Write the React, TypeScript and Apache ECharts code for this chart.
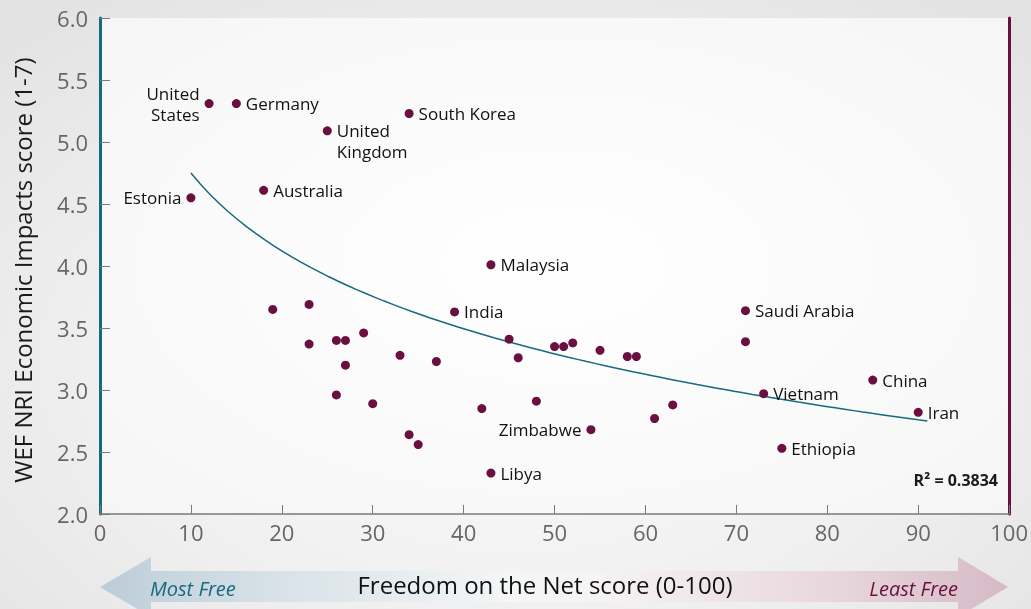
import React, { useEffect, useRef } from "react";
import * as echarts from "echarts";

// Freedom on the Net score (0-100) vs. WEF NRI Economic Impacts score (1-7)
const countries = [
  "United\nStates", "Germany", "United\nKingdom", "South Korea", "Australia",
  "Estonia", "Malaysia", "India", "Saudi Arabia", "China", "Vietnam", "Iran",
  "Ethiopia", "Zimbabwe", "Libya",
];
const fotnScores = [
  12, 15, 25, 34, 18, 10, 43, 39, 71, 85, 73, 90, 75, 54, 43,
  71, 19, 23, 23, 26, 27, 29, 27, 26, 30, 33, 37, 45, 46, 50, 51, 52, 55, 58,
  59, 42, 48, 61, 63, 34, 35,
];
const nriScores = [
  5.31, 5.31, 5.09, 5.23, 4.61, 4.55, 4.01, 3.63, 3.64, 3.08, 2.97, 2.82, 2.53, 2.68, 2.33,
  3.39, 3.65, 3.69, 3.37, 3.40, 3.40, 3.46, 3.20, 2.96, 2.89, 3.28, 3.23, 3.41, 3.26, 3.35,
  3.35, 3.38, 3.32, 3.27, 3.27, 2.85, 2.91, 2.77, 2.88, 2.64, 2.56,
];
const xTicks = { min: 0, max: 100, step: 10 };
const yTicks = { min: 2, max: 6, step: 0.5 };

// Logarithmic trend line y = a + b ln(x), drawn over its x range
const trendCoef = { a: 6.836, b: -0.906 };
const trendRange = [10, 91];
const rSquaredText = "R² = 0.3834";

const TEAL = "#17697d";
const MAROON = "#6a1040";
const FONT = "'Open Sans', 'Noto Sans', sans-serif";

// names whose label sits to the left of the dot
const leftLabels = new Set(["United\nStates", "Estonia", "Zimbabwe"]);

export default function App() {
  const ref = useRef<HTMLDivElement>(null);

  useEffect(() => {
    if (!ref.current) return;
    const chart = echarts.init(ref.current, null, { renderer: "svg" });

    const trend: number[][] = [];
    const steps = 80;
    for (let i = 0; i <= steps; i++) {
      const x = trendRange[0] + ((trendRange[1] - trendRange[0]) * i) / steps;
      trend.push([x, trendCoef.a + trendCoef.b * Math.log(x)]);
    }

    const points = fotnScores.map((x, i) => {
      const name = countries[i] ?? "";
      const isLeft = leftLabels.has(name);
      const isUK = name === "United\nKingdom";
      return {
        name,
        value: [x, nriScores[i]],
        label: {
          show: name !== "",
          formatter: () => name,
          position: isLeft ? "left" : "right",
          align: isLeft ? "right" : "left",
          distance: 5,
          offset: isUK ? [0, 10] : [0, 0],
        },
      };
    });

    const text = (style: any) => ({
      type: "text",
      style: {
        fontFamily: FONT,
        verticalAlign: "middle",
        textVerticalAlign: "middle",
        ...style,
        textAlign: style.align,
      },
    });

    chart.setOption({
      animation: false,
      backgroundColor: "transparent",
      textStyle: { fontFamily: FONT },
      grid: {
        left: 100,
        right: 21,
        top: 18,
        bottom: 95,
        show: true,
        borderWidth: 0,
        backgroundColor: {
          type: "radial",
          x: 0.5,
          y: 0.5,
          r: 0.75,
          colorStops: [
            { offset: 0, color: "#ffffff" },
            { offset: 1, color: "#f5f5f5" },
          ],
        },
      },
      xAxis: {
        type: "value",
        min: xTicks.min,
        max: xTicks.max,
        interval: xTicks.step,
        axisLine: { lineStyle: { color: "#7a7a7a", width: 1.5 } },
        axisTick: { inside: true, length: 9, lineStyle: { color: "#7a7a7a" } },
        axisLabel: { color: "#666", fontSize: 22, margin: 7, fontFamily: FONT },
        splitLine: { show: false },
      },
      yAxis: [
        {
          type: "value",
          min: yTicks.min,
          max: yTicks.max,
          interval: yTicks.step,
          axisLine: { show: true, lineStyle: { color: TEAL, width: 3 } },
          axisTick: { show: true, inside: true, length: 10, lineStyle: { color: "#7a7a7a" } },
          axisLabel: {
            color: "#666",
            fontSize: 22,
            margin: 12,
            fontFamily: FONT,
            formatter: (v: number) => v.toFixed(1),
          },
          splitLine: { show: false },
        },
        {
          type: "value",
          position: "right",
          min: yTicks.min,
          max: yTicks.max,
          interval: yTicks.step,
          axisLine: { show: true, lineStyle: { color: MAROON, width: 3 } },
          axisTick: { show: false },
          axisLabel: { show: false },
          splitLine: { show: false },
        },
      ],
      series: [
        {
          type: "line",
          data: trend,
          showSymbol: false,
          symbol: "none",
          lineStyle: { color: TEAL, width: 1.5 },
          z: 2,
          silent: true,
        },
        {
          type: "scatter",
          data: points,
          symbol: "circle",
          symbolSize: 9,
          itemStyle: { color: MAROON, opacity: 1 },
          label: {
            color: "#111",
            fontSize: 17,
            lineHeight: 21,
            fontFamily: FONT,
          },
          z: 3,
        },
      ],
      graphic: [
        {
          type: "polygon",
          z: 0,
          shape: {
            points: [
              [100, 587], [151, 557], [151, 571], [958, 571], [958, 557],
              [1008, 587], [958, 617], [958, 602], [151, 602], [151, 617],
            ],
          },
          style: {
            fill: new echarts.graphic.LinearGradient(0, 0, 1, 0, [
              { offset: 0, color: "#bccdd8" },
              { offset: 0.2, color: "#d8e2e8" },
              { offset: 0.45, color: "#f4f6f7" },
              { offset: 0.55, color: "#f6f3f4" },
              { offset: 0.8, color: "#e8d8de" },
              { offset: 1, color: "#d6bac5" },
            ]),
          },
        },
        {
          type: "text",
          x: 22,
          y: 270,
          rotation: Math.PI / 2,
          style: {
            text: "WEF NRI Economic Impacts score (1-7)",
            x: 0,
            y: 0,
            fill: "#1a1a1a",
            fontSize: 24,
            fontFamily: FONT,
            align: "center",
            verticalAlign: "middle",
            textAlign: "center",
            textVerticalAlign: "middle",
          },
        },
        text({
          text: "Freedom on the Net score (0-100)",
          x: 545,
          y: 584,
          fill: "#111",
          fontSize: 24,
          align: "center",
        }),
        text({
          text: "Most Free",
          x: 150,
          y: 588,
          fill: TEAL,
          fontSize: 20,
          fontStyle: "italic",
          align: "left",
        }),
        text({
          text: "Least Free",
          x: 958,
          y: 588,
          fill: MAROON,
          fontSize: 20,
          fontStyle: "italic",
          align: "right",
        }),
        text({
          text: rSquaredText,
          x: 998,
          y: 480,
          fill: "#1a1a1a",
          fontSize: 16,
          fontWeight: "bold",
          align: "right",
        }),
      ],
    });

    return () => chart.dispose();
  }, []);

  return (
    <div
      style={{
        position: "fixed",
        left: 0,
        top: 0,
        width: 1031,
        height: 609,
        background:
          "radial-gradient(ellipse 70% 75% at 50% 60%, #fbfbfb 0%, #f0f0f0 55%, #e3e3e3 100%)",
      }}
    >
      <div ref={ref} style={{ width: 1031, height: 609 }} />
    </div>
  );
}
